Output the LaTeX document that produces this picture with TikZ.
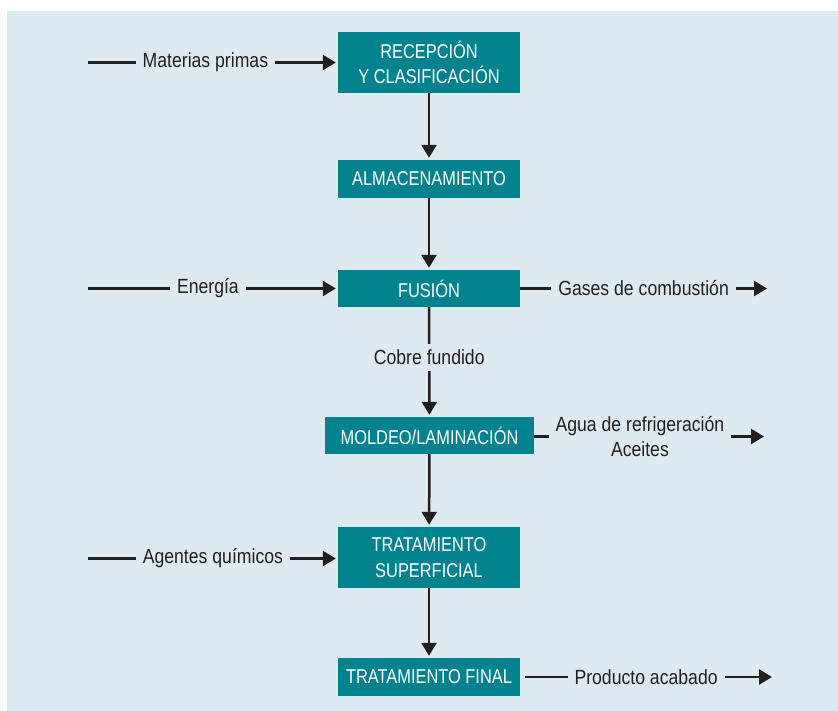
\documentclass[tikz,border=0pt]{standalone}
\usepackage{fontspec}
\setmainfont{Liberation Sans}[FakeStretch=0.82]
\newfontfamily\lblfont{Liberation Sans}[FakeStretch=0.86]
\usetikzlibrary{arrows.meta}
\definecolor{bgblue}{HTML}{DDEBF0}
\definecolor{boxteal}{HTML}{00838F}
\definecolor{ink}{HTML}{231F20}
\begin{document}
\begin{tikzpicture}[x=1pt,y=-1pt,
  font=\fontsize{20}{25.5}\selectfont,
  proc/.style={fill=boxteal, text=white, inner sep=0pt, minimum width=182pt, align=center},
  lbl/.style={fill=bgblue, text=ink, inner xsep=7pt, inner ysep=6pt, align=center,
    font=\lblfont\fontsize{20.5}{25}\selectfont},
  flow/.style={draw=ink, line width=2.5pt, -{Triangle[length=13pt,width=15pt]}}]
\useasboundingbox (0,0) rectangle (838,711);
\fill[bgblue] (7,11) rectangle (838,711);

\node[proc, minimum height=61pt] (rec) at (429,62.5) {RECEPCIÓN\\Y CLASIFICACIÓN};
\node[proc, minimum height=38pt] (alm) at (429,179) {ALMACENAMIENTO};
\node[proc, minimum height=37pt] (fus) at (429,288.5) {FUSIÓN};
\node[proc, minimum width=209pt, minimum height=37pt] (mol) at (429.5,435.5) {MOLDEO/LAMINACIÓN};
\node[proc, minimum height=61pt] (trs) at (429,557.5) {TRATAMIENTO\\SUPERFICIAL};
\node[proc, minimum height=38pt] (trf) at (429,677) {TRATAMIENTO FINAL};

\coordinate (in1) at (88,62.5);
\coordinate (in2) at (88,288.5);
\coordinate (in3) at (88,558.5);
\coordinate (out1) at (767,288.5);
\coordinate (out2) at (764,436.5);
\coordinate (out3) at (772,677);

\draw[flow, shorten >=2pt] (rec) -- (alm);
\draw[flow, shorten >=2pt] (alm) -- (fus);
\draw[flow, shorten >=2pt] (fus) -- node[lbl, pos=0.46]{Cobre fundido} (mol);
\draw[flow, shorten >=2pt] (mol) -- (trs);
\draw[flow, shorten >=2pt] (trs) -- (trf);

\draw[flow, shorten >=2pt] (in1) -- node[lbl, pos=0.47]{Materias primas} (rec.west);
\draw[flow, shorten >=2pt] (in2) -- node[lbl, pos=0.48]{Energía} (in2 -| fus.west);
\draw[flow, shorten >=2pt] (in3) -- node[lbl]{Agentes químicos} (in3 -| trs.west);

\draw[flow] (fus.east) -- node[lbl]{Gases de combustión} (out1);
\draw[flow] (mol.east |- out2) -- node[lbl, pos=0.46, inner ysep=2pt]{Agua de refrigeración\\Aceites} (out2);
\draw[flow, shorten <=5pt] (trf.east) -- node[lbl]{Producto acabado} (out3);
\end{tikzpicture}
\end{document}
